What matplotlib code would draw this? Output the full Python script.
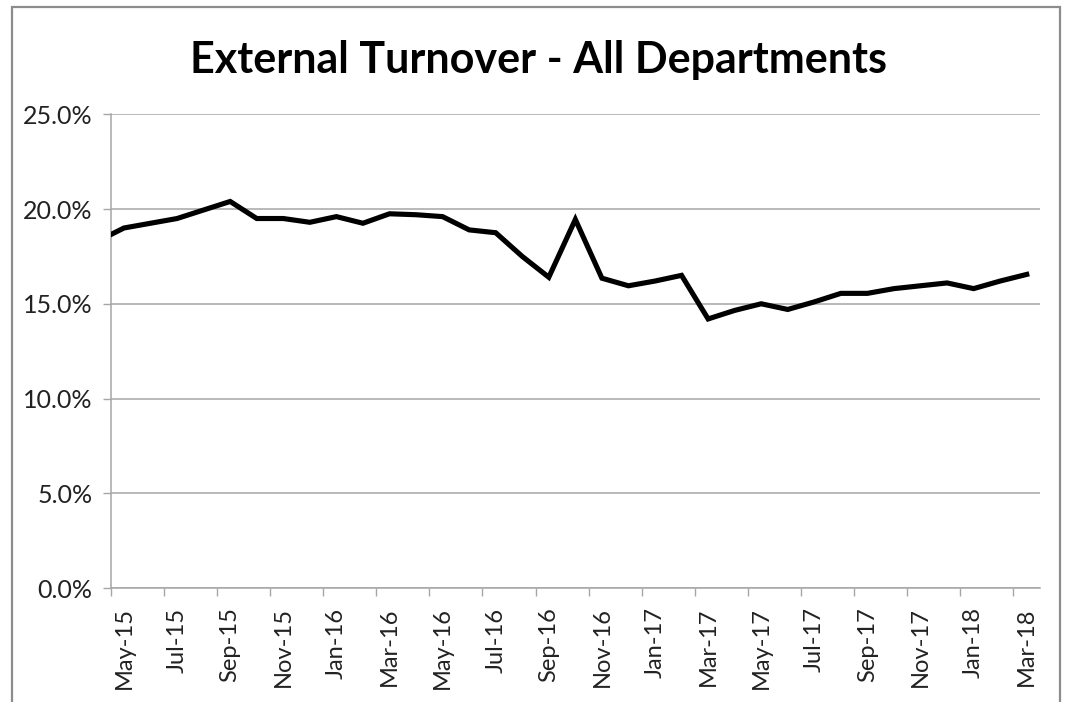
import numpy as np
import pandas as pd
import matplotlib
matplotlib.use('Agg')
import matplotlib.pyplot as plt
from matplotlib.patches import Rectangle
from matplotlib.ticker import FixedLocator, PercentFormatter

plt.rcParams['font.family'] = ['Lato', 'DejaVu Sans']

# monthly turnover, Apr-15 .. Mar-18 (Apr-15 only shows as the clipped start of the line)
months = pd.date_range('2015-04-01', periods=36, freq='MS').strftime('%b-%y').tolist()
turnover = [18.3,
            19.0, 19.25, 19.5, 19.95, 20.4, 19.5, 19.5, 19.3,
            19.6, 19.25, 19.75, 19.7, 19.6, 18.9, 18.75, 17.5, 16.4, 19.45, 16.35, 15.95,
            16.2, 16.5, 14.2, 14.65, 15.0, 14.7, 15.1, 15.55, 15.55, 15.8, 15.95, 16.1,
            15.8, 16.2, 16.55]
title = 'External Turnover - All Departments'

W, H = 1065, 702
fig = plt.figure(figsize=(W / 100, H / 100), dpi=100)
ax = fig.add_axes([110.7 / W, 1 - 588 / H, (1040 - 110.7) / W, (588 - 114.3) / H])

x = np.arange(len(turnover)) - 1
ax.plot(x, turnover, color='black', lw=3.7, solid_joinstyle='miter', zorder=3)

ax.set_xlim(-0.5, 34.5)
ax.set_ylim(0, 25)

# y axis
ax.set_yticks(np.arange(0, 26, 5))
ax.yaxis.set_major_formatter(PercentFormatter(decimals=1))
ax.grid(axis='y', color='#a6a6a6', lw=1.1)
ax.set_axisbelow(True)
ax.tick_params(axis='y', direction='out', length=6, width=1, color='#a6a6a6',
               labelsize=18, pad=7, labelcolor='#222222')

# x axis: ticks on category boundaries, labels every other month
ax.xaxis.set_major_locator(FixedLocator(np.arange(-0.5, 34, 2)))
ax.xaxis.set_major_formatter(plt.NullFormatter())
ax.xaxis.set_minor_locator(FixedLocator(np.arange(0, 35, 2)))
ax.set_xticklabels([months[i + 1] for i in range(0, 35, 2)], minor=True, rotation=90)
ax.tick_params(axis='x', which='major', direction='out', length=6, width=1, color='#a6a6a6')
ax.tick_params(axis='x', which='minor', length=0, labelsize=17, pad=14, labelcolor='#222222')

for s in ['top', 'right']:
    ax.spines[s].set_visible(False)
for s in ['left', 'bottom']:
    ax.spines[s].set_color('#a6a6a6')
    ax.spines[s].set_linewidth(1.1)

fig.text(538 / W, 1 - 60 / H, title, ha='center', va='center',
         fontsize=31, fontweight='bold')

# chart frame (cropped at the bottom)
fig.patches.append(Rectangle((12 / W, -0.02), (1060 - 12) / W, 1.02 - 7 / H,
                             transform=fig.transFigure, fill=False,
                             edgecolor='#8c8c8c', lw=1.6))

fig.savefig('out.png', dpi=100, facecolor='white')
